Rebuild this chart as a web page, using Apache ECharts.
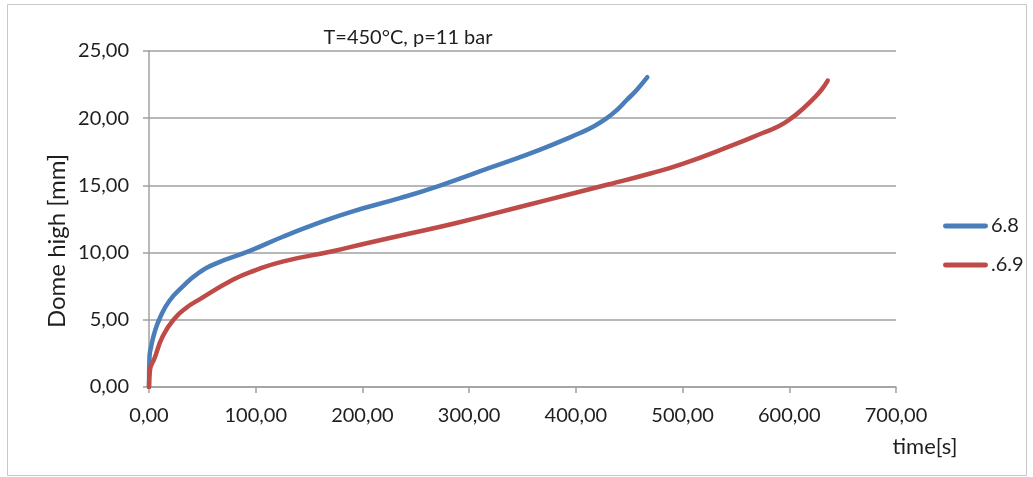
<!DOCTYPE html>
<html>
<head>
<meta charset="utf-8">
<script src="https://cdn.jsdelivr.net/npm/echarts@6/dist/echarts.min.js"></script>
<style>
  html, body { margin: 0; padding: 0; background: #fff; }
  #chart { width: 1033px; height: 477px; }
</style>
</head>
<body>
<div id="chart"></div>
<script>
  // series 6.8 (blue)
  var timeA = [0, 0.5, 2, 5, 10, 19, 32, 45, 63, 95, 126, 157, 188, 235, 272, 319, 366, 404, 417, 429, 439, 447, 457, 467];
  var heightA = [0, 2.3, 3.0, 4.0, 5.1, 6.4, 7.5, 8.4, 9.2, 10.15, 11.2, 12.15, 13.0, 14.05, 14.97, 16.3, 17.65, 18.9, 19.4, 20.0, 20.65, 21.3, 22.1, 23.05];
  // series .6.9 (red)
  var timeB = [0, 1, 5, 13, 24, 35, 47, 79, 100, 126, 172, 204, 235, 288, 350, 397, 432, 469, 500, 547, 575, 590, 602, 612, 622, 630, 636];
  var heightB = [0, 1.3, 2.1, 3.8, 5.1, 5.9, 6.5, 8.0, 8.7, 9.35, 10.1, 10.7, 11.25, 12.2, 13.45, 14.4, 15.1, 15.87, 16.6, 18.0, 18.9, 19.4, 20.0, 20.65, 21.4, 22.1, 22.8];
  var seriesNames = ['6.8', '.6.9'];
  var seriesColors = ['#4a7ebb', '#be4b48'];

  function pairs(xs, ys) {
    return xs.map(function (x, i) { return [x, ys[i]]; });
  }
  function fmt(v) {
    return v.toFixed(2).replace('.', ',');
  }

  var myChart = echarts.init(document.getElementById('chart'));
  var txt = '#1f1f1f';
  var gridColor = '#a0a0a0';
  var option = {
    animation: false,
    textStyle: { fontFamily: 'Lato' },
    title: {
      text: 'T=450°C, p=11 bar',
      left: 403,
      top: 23,
      textAlign: 'center',
      textStyle: { fontFamily: 'Lato', fontSize: 20, fontWeight: 'normal', color: txt }
    },
    legend: {
      orient: 'vertical',
      left: 938,
      top: 210,
      itemWidth: 45,
      itemHeight: 5,
      itemGap: 17,
      icon: 'path://M2,0 L43,0 A2,2 0 0 1 43,5 L2,5 A2,2 0 0 1 2,0 Z',
      textStyle: { fontFamily: 'Lato', fontSize: 20, color: txt, lineHeight: 22, padding: [0, 0, 0, -2] },
      data: seriesNames
    },
    grid: {
      left: 149,
      right: 137,
      top: 51,
      bottom: 90,
      containLabel: false
    },
    xAxis: {
      type: 'value',
      min: 0,
      max: 700,
      interval: 100,
      axisLine: { show: true, lineStyle: { color: gridColor, width: 1.5 } },
      axisTick: { show: true, length: 6, lineStyle: { color: gridColor, width: 1.5 } },
      splitLine: { show: false },
      axisLabel: {
        margin: 19,
        fontFamily: 'Lato',
        fontSize: 20,
        color: txt,
        formatter: fmt
      }
    },
    yAxis: {
      type: 'value',
      min: 0,
      max: 25,
      interval: 5,
      axisLine: { show: true, lineStyle: { color: gridColor, width: 1.5 } },
      axisTick: { show: true, length: 6, lineStyle: { color: gridColor, width: 1.5 } },
      splitLine: { show: true, lineStyle: { color: gridColor, width: 1.5 } },
      axisLabel: {
        margin: 20,
        fontFamily: 'Lato',
        fontSize: 20,
        color: txt,
        formatter: fmt
      }
    },
    graphic: [
      {
        type: 'rect',
        shape: { x: 7.5, y: 4.5, width: 1019, height: 471 },
        style: { fill: 'none', stroke: '#c8c8c8', lineWidth: 1 },
        silent: true
      },
      {
        type: 'text',
        x: 57,
        y: 241,
        rotation: Math.PI / 2,
        style: {
          text: 'Dome high [mm]',
          fontFamily: 'Lato',
          fontSize: 24,
          fill: txt,
          align: 'center',
          verticalAlign: 'middle'
        }
      },
      {
        type: 'text',
        x: 925,
        y: 447,
        style: {
          text: 'time[s]',
          fontFamily: 'Lato',
          fontSize: 22,
          fill: txt,
          align: 'center',
          verticalAlign: 'middle'
        }
      }
    ],
    series: [
      {
        name: seriesNames[0],
        type: 'line',
        showSymbol: false,
        smooth: 0.5,
        lineStyle: { width: 4.5, color: seriesColors[0], cap: 'round' },
        itemStyle: { color: seriesColors[0] },
        data: pairs(timeA, heightA)
      },
      {
        name: seriesNames[1],
        type: 'line',
        showSymbol: false,
        smooth: 0.5,
        lineStyle: { width: 4.5, color: seriesColors[1], cap: 'round' },
        itemStyle: { color: seriesColors[1] },
        data: pairs(timeB, heightB)
      }
    ]
  };
  myChart.setOption(option, true);
</script>
</body>
</html>
